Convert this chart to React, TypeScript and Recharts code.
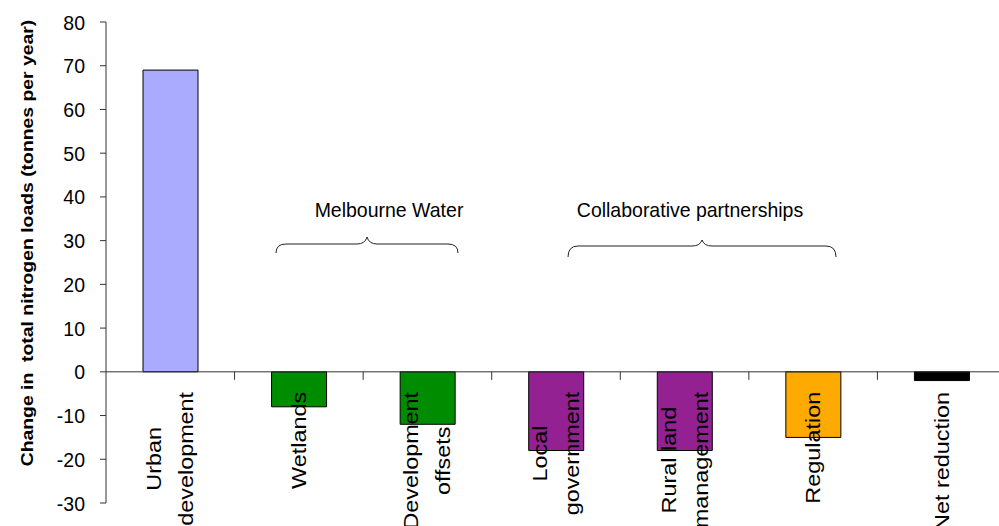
import React from 'react';
import { BarChart, Bar, XAxis, YAxis, ReferenceLine, Cell } from 'recharts';

// Change in total nitrogen load by source / program (tonnes per year)
const labelLines: string[][] = [
  ['Urban', 'development'],
  ['Wetlands'],
  ['Development', 'offsets'],
  ['Local', 'government'],
  ['Rural land', 'management'],
  ['Regulation'],
  ['Net reduction'],
];
const values = [69, -8, -12, -18, -18, -15, -2];
const barColors = ['#AAAAFF', '#008C00', '#008C00', '#942191', '#942191', '#FFAA00', '#000000'];
const yTicks = [-30, -20, -10, 0, 10, 20, 30, 40, 50, 60, 70, 80];

const data = labelLines.map((lines, i) => ({ name: lines.join(' '), value: values[i] }));

const FONT = '"Liberation Sans", Arial, Helvetica, sans-serif';

// chart geometry
const CHART_W = 1006;
const CHART_H = 526;
const MARGIN = { top: 22, right: 0, bottom: 0, left: 0 };
const Y_AXIS_W = 106;
const X_AXIS_H = 23;
const Y_MIN = -30;
const Y_MAX = 80;
const PLOT_W = CHART_W - MARGIN.left - MARGIN.right - Y_AXIS_W;
const PLOT_H = CHART_H - MARGIN.top - MARGIN.bottom - X_AXIS_H;
const BAND = PLOT_W / labelLines.length;
const ZERO_Y = MARGIN.top + (PLOT_H * Y_MAX) / (Y_MAX - Y_MIN);

const LABEL_SIZE = 19.5;
const LABEL_STRETCH = 1.2;
const TEXT_STRETCH = 1.08;
const LINE_GAP = 32;

let measureCtx: CanvasRenderingContext2D | null = null;
function textWidth(s: string, font: string) {
  if (!measureCtx) measureCtx = document.createElement('canvas').getContext('2d');
  if (!measureCtx) return s.length * 10;
  measureCtx.font = font;
  return measureCtx.measureText(s).width;
}

function CategoryTick(props: any) {
  const { x, index } = props;
  const lines = labelLines[index] || [];
  const blockW = Math.max(...lines.map((l) => textWidth(l, `${LABEL_SIZE}px ${FONT}`)));
  const top = ZERO_Y + 20;
  const n = lines.length;
  return (
    <g>
      {index > 0 && (
        <line x1={x - BAND / 2} x2={x - BAND / 2} y1={ZERO_Y} y2={ZERO_Y + 8} stroke="#333" />
      )}
      <g transform={`translate(${x},${top}) scale(1,${LABEL_STRETCH}) rotate(-90)`}>
        {lines.map((line, i) => (
          <text
            key={line}
            x={-blockW / 2}
            y={(i - (n - 1) / 2) * LINE_GAP}
            dy="0.36em"
            textAnchor="middle"
            fontFamily={FONT}
            fontSize={LABEL_SIZE}
            fill="#000"
          >
            {line}
          </text>
        ))}
      </g>
    </g>
  );
}

function ValueTick(props: any) {
  const { x, y, payload } = props;
  return (
    <text
      transform={`translate(${x},${y}) scale(1,${TEXT_STRETCH})`}
      textAnchor="end"
      dy="0.36em"
      fontFamily={FONT}
      fontSize={19.5}
      fill="#000"
    >
      {payload.value}
    </text>
  );
}

function bracePath(x1: number, x2: number, y: number, peak: number, drop: number) {
  const xm = (x1 + x2) / 2;
  return [
    `M${x1},${y + drop}`,
    `Q${x1},${y} ${x1 + 10},${y}`,
    `L${xm - 10},${y}`,
    `Q${xm - 2},${y} ${xm},${y - peak}`,
    `Q${xm + 2},${y} ${xm + 10},${y}`,
    `L${x2 - 10},${y}`,
    `Q${x2},${y} ${x2},${y + drop}`,
  ].join(' ');
}

export default function App() {
  return (
    <div
      style={{
        position: 'absolute',
        left: 0,
        top: 0,
        width: 999,
        height: 526,
        overflow: 'hidden',
        background: '#fff',
      }}
    >
      <BarChart width={CHART_W} height={CHART_H} data={data} margin={MARGIN}>
        <XAxis
          dataKey="name"
          height={X_AXIS_H}
          axisLine={false}
          tickLine={false}
          interval={0}
          tick={(p: any) => <CategoryTick {...p} />}
        />
        <YAxis
          width={Y_AXIS_W}
          domain={[Y_MIN, Y_MAX]}
          ticks={yTicks}
          interval={0}
          tickSize={6}
          tickMargin={15}
          axisLine={{ stroke: '#333' }}
          tickLine={{ stroke: '#333' }}
          tick={(p: any) => <ValueTick {...p} />}
        />
        <ReferenceLine y={0} stroke="#333" />
        <Bar dataKey="value" barSize={55} stroke="#000" strokeWidth={1} isAnimationActive={false}>
          {data.map((d, i) => (
            <Cell key={d.name} fill={barColors[i]} />
          ))}
        </Bar>
      </BarChart>

      <svg
        width={999}
        height={526}
        style={{ position: 'absolute', left: 0, top: 0, pointerEvents: 'none' }}
      >
        <text
          transform="translate(27,243) scale(1,1.14) rotate(-90)"
          textAnchor="middle"
          dy="0.36em"
          fontFamily={FONT}
          fontWeight="bold"
          fontSize={17}
          fill="#000"
          style={{ whiteSpace: 'pre' }}
        >
          {'Change in  total nitrogen loads (tonnes per year)'}
        </text>

        <text
          transform={`translate(389,217) scale(1,${TEXT_STRETCH})`}
          textAnchor="middle"
          fontFamily={FONT}
          fontSize={19.5}
          fill="#000"
        >
          Melbourne Water
        </text>
        <path d={bracePath(276, 458, 244, 7, 9)} fill="none" stroke="#222" />

        <text
          transform={`translate(690,217) scale(1,${TEXT_STRETCH})`}
          textAnchor="middle"
          fontFamily={FONT}
          fontSize={19.5}
          fill="#000"
        >
          Collaborative partnerships
        </text>
        <path d={bracePath(568, 836, 246, 6, 11)} fill="none" stroke="#222" />
      </svg>
    </div>
  );
}
